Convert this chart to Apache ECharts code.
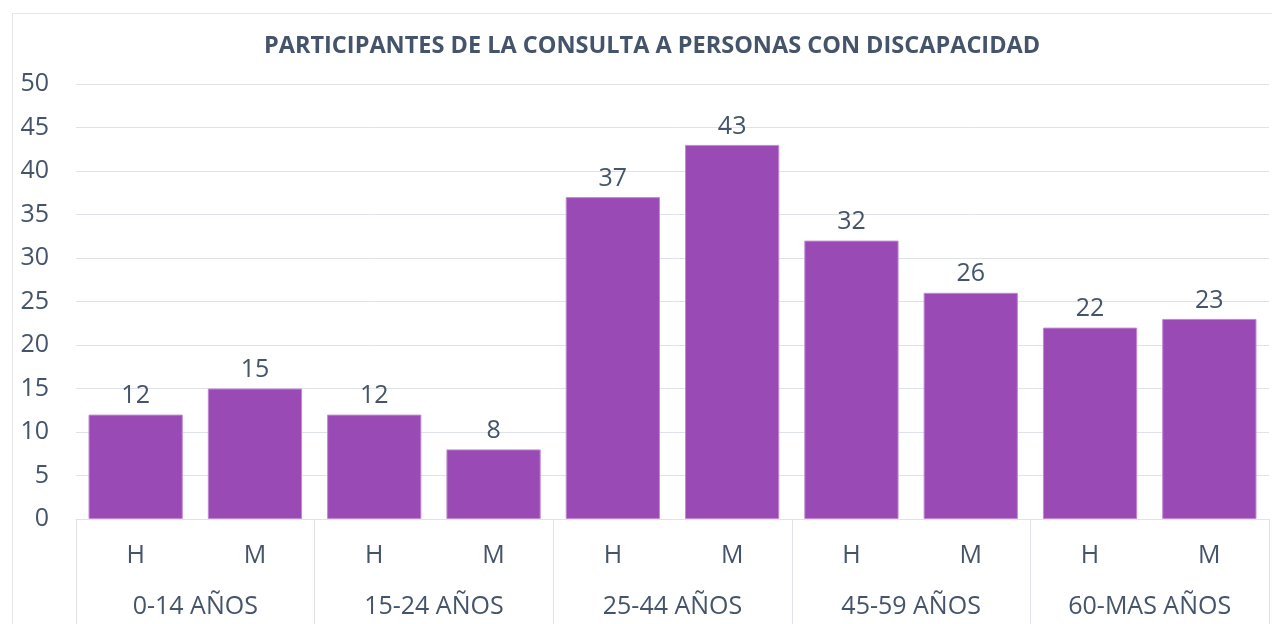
<!DOCTYPE html>
<html>
<head>
<meta charset="utf-8">
<script src="https://cdn.jsdelivr.net/npm/echarts@6/dist/echarts.min.js"></script>
<style>
html,body{margin:0;padding:0;background:#fff;}
#main{width:1272px;height:624px;}
</style>
</head>
<body>
<div id="main"></div>
<script>
// datos del grafico
var sexos = ["H", "M", "H", "M", "H", "M", "H", "M", "H", "M"];
var grupos = ["0-14 AÑOS", "15-24 AÑOS", "25-44 AÑOS", "45-59 AÑOS", "60-MAS AÑOS"];
var participantes = [12, 15, 12, 8, 37, 43, 32, 26, 22, 23];
var yTicks = [0, 50, 5]; // min, max, intervalo

var textColor = "#44546A";
var lineColor = "#dfe3e9";

var myChart = echarts.init(document.getElementById("main"));
var option = {
    animation: false,
    textStyle: { fontFamily: "Open Sans" },
    title: {
        text: "PARTICIPANTES DE LA CONSULTA A PERSONAS CON DISCAPACIDAD",
        left: 259,
        top: 29,
        textStyle: { color: textColor, fontSize: 23.5, fontWeight: "bold", fontFamily: "Open Sans" }
    },
    graphic: [{
        type: "rect",
        shape: { x: 12.5, y: 13.5, width: 1275, height: 630 },
        style: { fill: "none", stroke: "#e3e6ea", lineWidth: 1 },
        silent: true
    }],
    grid: { left: 76, right: 3, top: 84, bottom: 105 },
    xAxis: [
        {
            type: "category",
            data: sexos,
            position: "bottom",
            axisLine: { show: true, lineStyle: { color: lineColor } },
            axisTick: { show: false },
            axisLabel: { color: textColor, fontSize: 25, margin: 24 }
        },
        {
            type: "category",
            data: grupos,
            position: "bottom",
            axisLine: { show: false },
            axisTick: { show: true, length: 106, lineStyle: { color: lineColor } },
            axisLabel: { color: textColor, fontSize: 25, margin: 75 }
        }
    ],
    yAxis: {
        type: "value",
        min: yTicks[0],
        max: yTicks[1],
        interval: yTicks[2],
        axisLine: { show: false },
        axisTick: { show: false },
        axisLabel: { color: textColor, fontSize: 25, margin: 27 },
        splitLine: { lineStyle: { color: lineColor } }
    },
    series: [{
        type: "bar",
        xAxisIndex: 0,
        data: participantes,
        barCategoryGap: "21%",
        itemStyle: { color: "#9A4AB4", borderColor: "#c08ad2", borderWidth: 1 },
        label: { show: true, position: "top", distance: 6, color: textColor, fontSize: 25 }
    }]
};
myChart.setOption(option);
</script>
</body>
</html>
